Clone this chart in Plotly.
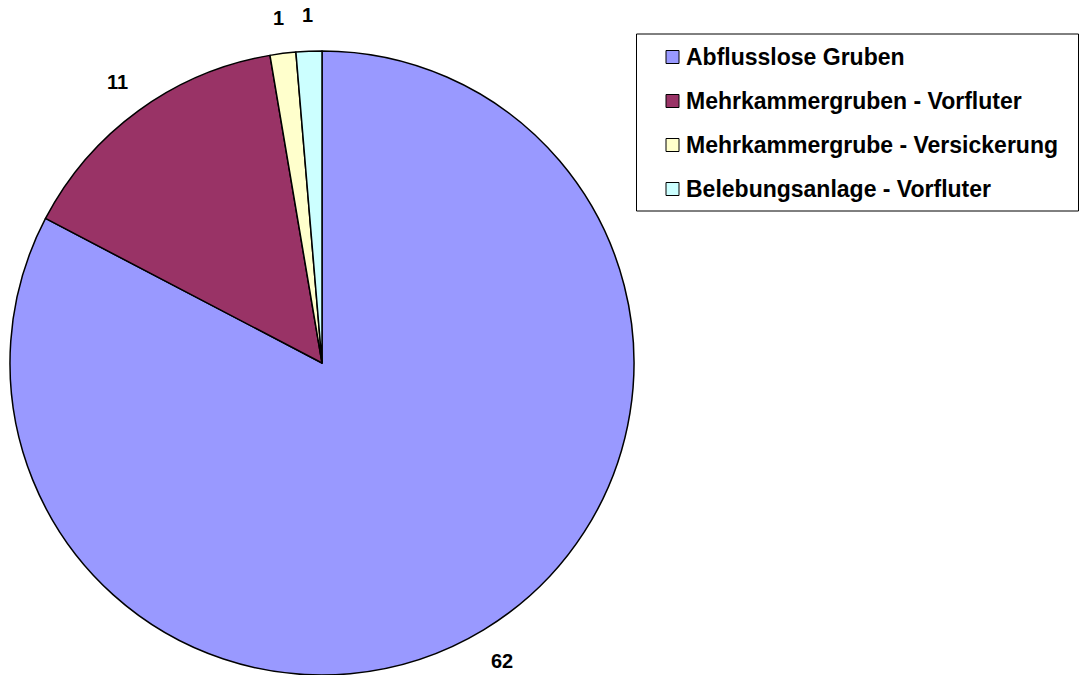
import math
import plotly.graph_objects as go

labels = ["Abflusslose Gruben", "Mehrkammergruben - Vorfluter",
          "Mehrkammergrube - Versickerung", "Belebungsanlage - Vorfluter"]
values = [62, 11, 1, 1]
colors = ["#9999FF", "#993366", "#FFFFCC", "#CCFFFF"]

W, H = 1079, 675
FONT = "Liberation Sans, Arial, sans-serif"

# pie geometry (pixels)
CX, CY, R = 322, 363, 312

fig = go.Figure(go.Pie(
    labels=labels, values=values, sort=False, direction="clockwise", rotation=0,
    marker=dict(colors=colors, line=dict(color="black", width=1.5)),
    textinfo="none", hoverinfo="label+value",
    domain=dict(x=[(CX - R) / W, (CX + R) / W], y=[1 - (CY + R) / H, 1 - (CY - R) / H]),
    showlegend=False, automargin=False,
))

annotations = []
# value labels outside slices, at the mid-angle of each slice
total = sum(values)
cum = 0
for v in values:
    mid = (cum + v / 2) / total * 2 * math.pi
    cum += v
    rr = R * 1.115
    px = CX + rr * math.sin(mid)
    py = CY - rr * math.cos(mid)
    annotations.append(dict(x=px / W, y=1 - py / H, xref="paper", yref="paper",
                            text="<b>%d</b>" % v, showarrow=False,
                            xanchor="center", yanchor="middle",
                            font=dict(family=FONT, size=20, color="black")))

# manual legend
shapes = [dict(type="rect", xref="paper", yref="paper",
               x0=636.5 / W, x1=1078.5 / W, y0=1 - 211 / H, y1=1 - 34 / H,
               line=dict(color="black", width=1), fillcolor="white")]
row_y = [57, 101, 145, 189]
for lab, col, yy in zip(labels, colors, row_y):
    shapes.append(dict(type="rect", xref="paper", yref="paper",
                       x0=666 / W, x1=679 / W, y0=1 - (yy + 6.5) / H, y1=1 - (yy - 6.5) / H,
                       line=dict(color="black", width=1), fillcolor=col))
    annotations.append(dict(x=684 / W, y=1 - yy / H, xref="paper", yref="paper",
                            text="<b>" + lab + "</b>", showarrow=False,
                            xanchor="left", yanchor="middle",
                            font=dict(family=FONT, size=23, color="black")))

fig.update_layout(width=W, height=H, margin=dict(l=0, r=0, t=0, b=0),
                  paper_bgcolor="white", plot_bgcolor="white",
                  shapes=shapes, annotations=annotations)
fig.write_html("out.html", config={"displayModeBar": False},
               post_script="document.body.style.margin='0';")
